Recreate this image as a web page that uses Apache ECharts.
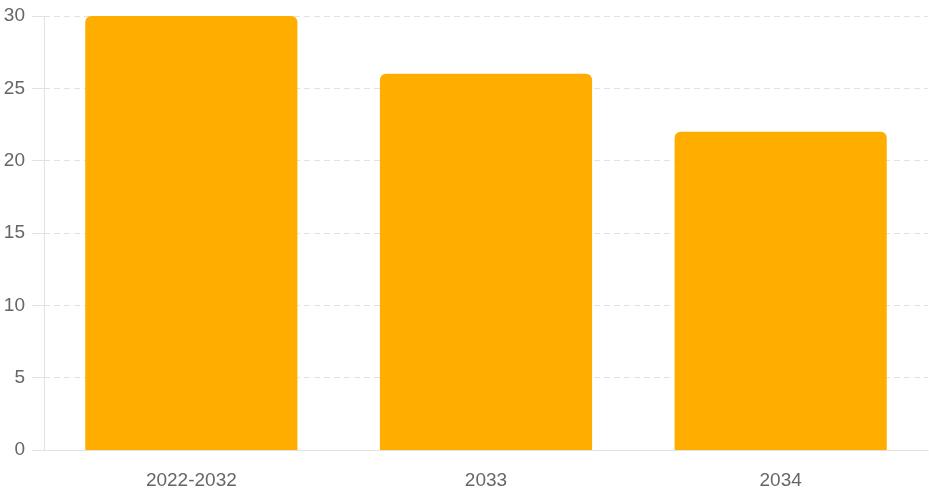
<!DOCTYPE html>
<html>
<head>
<meta charset="utf-8">
<script src="https://cdn.jsdelivr.net/npm/echarts@6/dist/echarts.min.js"></script>
<style>
  html, body { margin: 0; padding: 0; background: #fff; }
  #main { width: 929px; height: 496px; }
</style>
</head>
<body>
<div id="main"></div>
<script>
// data
var categories = ['2022-2032', '2033', '2034'];
var values = [30, 26, 22];
var yTicks = [0, 5, 10, 15, 20, 25, 30];

var myChart = echarts.init(document.getElementById('main'));
var option = {
    animation: false,
    grid: { left: 44, right: 1, top: 16, bottom: 46 },
    textStyle: { fontFamily: 'Liberation Sans, Arial, sans-serif' },
    xAxis: {
        type: 'category',
        data: categories,
        axisLine: { lineStyle: { color: '#e2e2e2' } },
        axisTick: { show: false },
        axisLabel: { color: '#666', fontSize: 19, margin: 21 }
    },
    yAxis: {
        type: 'value',
        min: yTicks[0],
        max: yTicks[yTicks.length - 1],
        interval: 5,
        axisLine: { show: true, lineStyle: { color: '#e2e2e2' } },
        axisTick: { show: true, length: 12, lineStyle: { color: '#e2e2e2' } },
        axisLabel: { color: '#666', fontSize: 19, margin: 19 },
        splitLine: { lineStyle: { color: '#e2e2e2', type: [6, 4] } }
    },
    series: [{
        type: 'bar',
        data: values,
        barWidth: '72%',
        itemStyle: { color: '#FFAE00', borderRadius: [6, 6, 0, 0] }
    }]
};
myChart.setOption(option);
</script>
</body>
</html>
